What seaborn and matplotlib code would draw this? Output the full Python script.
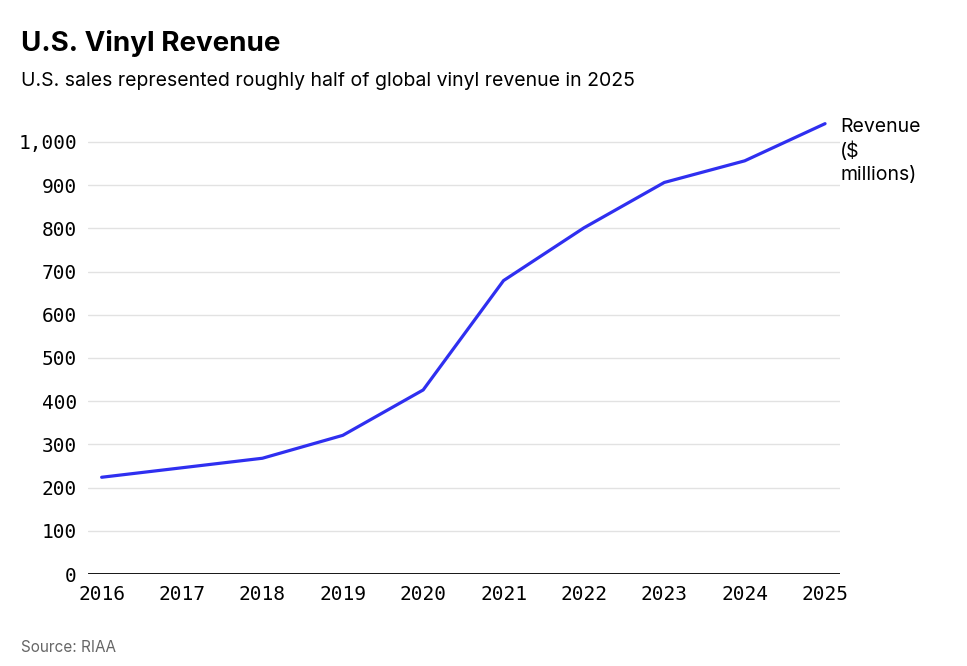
import matplotlib
matplotlib.use("Agg")
import matplotlib.pyplot as plt
import seaborn as sns
import pandas as pd

# dados
anos = [2016, 2017, 2018, 2019, 2020, 2021, 2022, 2023, 2024, 2025]
receita = [224, 246, 268, 321, 426, 679, 801, 906, 956, 1042]
y_ticks = [0, 100, 200, 300, 400, 500, 600, 700, 800, 900, 1000]

df = pd.DataFrame({"ano": anos, "receita": receita})

sns.set_theme(style="white")
plt.rcParams["font.family"] = ["Inter", "DejaVu Sans"]
plt.rcParams["text.color"] = "black"

fig = plt.figure(figsize=(9.67, 6.66), dpi=100)
ax = fig.add_axes([0.091, 0.138, 0.778, 0.688])

sns.lineplot(data=df, x="ano", y="receita", ax=ax, color="#2f2ff0", linewidth=2.3)

ax.set_xlim(2015.83, 2025.19)
ax.set_ylim(0, 1060)
ax.set_xticks(anos)
ax.set_yticks(y_ticks)
ax.set_xticklabels([str(a) for a in anos], family="DejaVu Sans Mono", fontsize=14)
ax.set_yticklabels([f"{v:,}" for v in y_ticks], family="DejaVu Sans Mono", fontsize=14)
ax.tick_params(axis="both", length=0, colors="black")
ax.tick_params(axis="x", pad=8)
ax.tick_params(axis="y", pad=8)
ax.set_xlabel("")
ax.set_ylabel("")
for s in ax.spines.values():
    s.set_visible(False)
ax.grid(axis="y", color="#e2e2e2", linewidth=1)
ax.grid(axis="x", visible=False)
ax.axhline(0, color="black", linewidth=2)

ax.text(1.0, receita[-1] + 14, "Revenue\n($\nmillions)", transform=ax.get_yaxis_transform(),
        ha="left", va="top", fontsize=14, color="black", linespacing=1.38)

fig.text(0.022, 0.934, "U.S. Vinyl Revenue", fontsize=20, fontweight="bold", ha="left", va="center")
fig.text(0.022, 0.879, "U.S. sales represented roughly half of global vinyl revenue in 2025",
         fontsize=14, ha="left", va="center")
fig.text(0.022, 0.028, "Source: RIAA", fontsize=11, color="#666666", ha="left", va="center")

fig.savefig("out.png", dpi=100)
